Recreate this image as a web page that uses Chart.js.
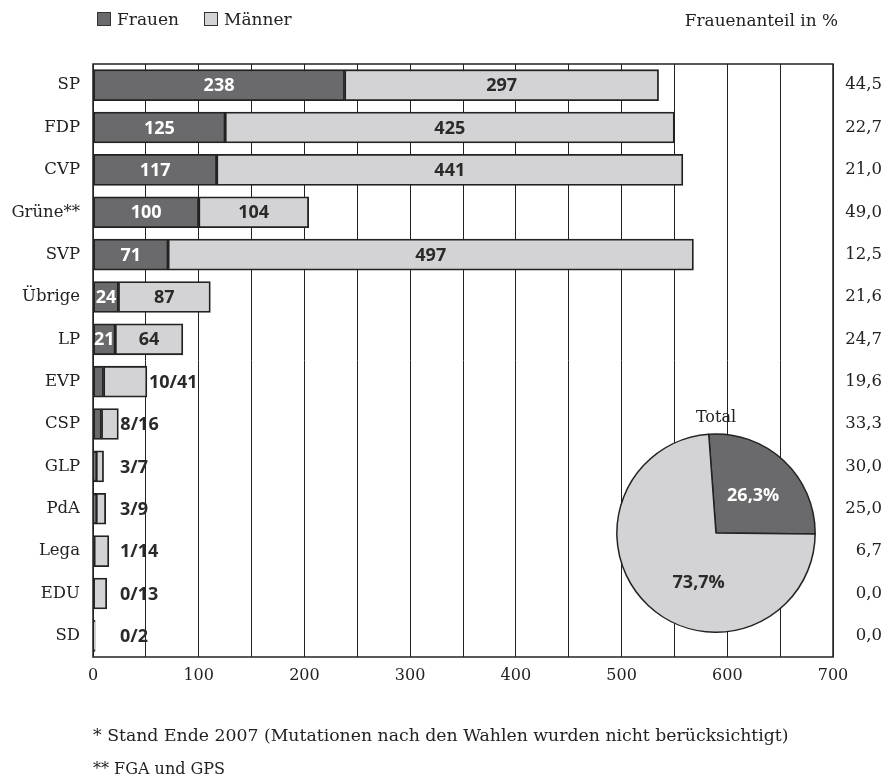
<!DOCTYPE html>
<html lang="de">
<head>
<meta charset="utf-8">
<script src="https://cdn.jsdelivr.net/npm/chart.js@4.4.1/dist/chart.umd.min.js"></script>
<style>
  body { margin: 0; background: #fff; }
  #wrap { position: relative; width: 886px; height: 776px; font-family: "DejaVu Serif", serif; color: #222; }
  #main { position: absolute; left: 0; top: 0; }
  #pieBox { position: absolute; left: 616px; top: 408px; width: 200px; height: 225px; }
  .legend { position: absolute; left: 97px; top: 9px; font-size: 17px; display: flex; gap: 25px; }
  .legend span.box { display: inline-block; width: 12px; height: 12px; border: 1.5px solid #333; margin-right: 6px; vertical-align: -1px; }
  .head { position: absolute; right: 48px; top: 10px; font-size: 16.9px; }
  .note { position: absolute; left: 93px; font-size: 16px; }
</style>
</head>
<body>
<div id="wrap">
  <canvas id="main" width="886" height="776"></canvas>
  <div id="pieBox"><canvas id="pie" width="200" height="225"></canvas></div>
  <div class="legend" id="legend"></div>
  <div class="head">Frauenanteil in %</div>
  <div class="note" style="top:725px; font-size:17.3px">* Stand Ende 2007 (Mutationen nach den Wahlen wurden nicht berücksichtigt)</div>
  <div class="note" style="top:759px">** FGA und GPS</div>
</div>
<script>
// Daten
const parteien = ['SP', 'FDP', 'CVP', 'Grüne**', 'SVP', 'Übrige', 'LP', 'EVP', 'CSP', 'GLP', 'PdA', 'Lega', 'EDU', 'SD'];
const frauen = [238, 125, 117, 100, 71, 24, 21, 10, 8, 3, 3, 1, 0, 0];
const maenner = [297, 425, 441, 104, 497, 87, 64, 41, 16, 7, 9, 14, 13, 2];
const frauenanteil = ['44,5', '22,7', '21,0', '49,0', '12,5', '21,6', '24,7', '19,6', '33,3', '30,0', '25,0', '6,7', '0,0', '0,0'];
const totalWerte = [26.3, 73.7];
const totalLabels = ['26,3%', '73,7%'];
const xTicks = [0, 100, 200, 300, 400, 500, 600, 700];

const DUNKEL = '#6a6a6d';
const HELL = '#d3d3d5';
const LINIE = '#222';
const serif = '"DejaVu Serif", serif';
const sans = '"Open Sans", "DejaVu Sans", sans-serif';

// Legende (HTML)
const legend = document.getElementById('legend');
[['Frauen', DUNKEL], ['Männer', HELL]].forEach(([txt, col]) => {
    const d = document.createElement('div');
    d.innerHTML = `<span class="box" style="background:${col}"></span>${txt}`;
    legend.appendChild(d);
});

// Rahmen um die Zeichenfläche
const rahmen = {
    id: 'rahmen',
    afterDatasetsDraw(chart) {
        const a = chart.chartArea, ctx = chart.ctx;
        ctx.save();
        ctx.strokeStyle = LINIE;
        ctx.lineWidth = 1.5;
        ctx.strokeRect(a.left, a.top, a.right - a.left, a.bottom - a.top);
        ctx.restore();
    }
};

// Werte in / neben den Balken
const werte = {
    id: 'werte',
    afterDatasetsDraw(chart) {
        const ctx = chart.ctx;
        const mF = chart.getDatasetMeta(0), mM = chart.getDatasetMeta(1);
        ctx.save();
        ctx.font = 'bold 18px ' + sans;
        ctx.textBaseline = 'middle';
        parteien.forEach((p, i) => {
            const bf = mF.data[i], bm = mM.data[i];
            if (frauen[i] >= 20) {
                ctx.textAlign = 'center';
                ctx.fillStyle = '#fff';
                ctx.fillText(frauen[i], (bf.base + bf.x) / 2, bf.y + 1);
                ctx.fillStyle = '#2a2a2a';
                ctx.fillText(maenner[i], (bm.base + bm.x) / 2, bm.y + 1);
            } else {
                ctx.textAlign = 'left';
                ctx.fillStyle = '#2a2a2a';
                ctx.fillText(frauen[i] + '/' + maenner[i], Math.max(bm.x + 2, 120), bm.y + 1);
            }
        });
        ctx.restore();
    }
};

new Chart(document.getElementById('main'), {
    type: 'bar',
    data: {
        labels: parteien,
        datasets: [
            { label: 'Frauen', data: frauen, backgroundColor: DUNKEL },
            { label: 'Männer', data: maenner, backgroundColor: HELL }
        ]
    },
    options: {
        indexAxis: 'y',
        responsive: false,
        animation: false,
        events: [],
        layout: { padding: { top: 64, right: 4, bottom: 79, left: 0 } },
        datasets: {
            bar: {
                borderColor: LINIE,
                borderWidth: 1.8,
                borderSkipped: false,
                barThickness: 31
            }
        },
        plugins: { legend: { display: false }, tooltip: { enabled: false } },
        scales: {
            x: {
                stacked: true,
                min: 0, max: 700,
                grid: { color: LINIE, lineWidth: 1, drawTicks: false },
                border: { display: false },
                afterBuildTicks(scale) {
                    const t = [];
                    for (let v = 0; v <= 700; v += 50) t.push({ value: v });
                    scale.ticks = t;
                },
                ticks: {
                    padding: 9,
                    color: '#222',
                    font: { family: serif, size: 16 },
                    callback: v => xTicks.includes(v) ? v : ''
                },
                afterFit(scale) { scale.height = 40; }
            },
            y: {
                stacked: true,
                grid: { display: false, drawTicks: false },
                border: { display: false },
                ticks: { padding: 13, color: '#222', font: { family: serif, size: 16.5 } },
                afterFit(scale) { scale.width = 93; }
            },
            y2: {
                type: 'category',
                position: 'right',
                labels: frauenanteil,
                offset: true,
                grid: { display: false, drawTicks: false },
                border: { display: false },
                ticks: { crossAlign: 'far', padding: 0, color: '#222', font: { family: serif, size: 16.5 } },
                afterFit(scale) { scale.width = 49; }
            }
        }
    },
    plugins: [rahmen, werte]
});

// Kreisdiagramm "Total"
const kreisWerte = {
    id: 'kreisWerte',
    afterDatasetsDraw(chart) {
        const ctx = chart.ctx;
        const anteil = [0.52, 0.41]; // Lage des Textes im Sektor
        ctx.save();
        ctx.font = 'bold 18px ' + sans;
        ctx.textAlign = 'center';
        ctx.textBaseline = 'middle';
        chart.getDatasetMeta(0).data.forEach((arc, i) => {
            const a = arc.startAngle + (arc.endAngle - arc.startAngle) * anteil[i];
            const r = arc.outerRadius * 0.53;
            ctx.fillStyle = i === 0 ? '#fff' : '#2a2a2a';
            ctx.fillText(totalLabels[i], arc.x + Math.cos(a) * r, arc.y + Math.sin(a) * r);
        });
        ctx.restore();
    }
};

new Chart(document.getElementById('pie'), {
    type: 'pie',
    data: {
        labels: ['Frauen', 'Männer'],
        datasets: [{
            data: totalWerte,
            backgroundColor: [DUNKEL, HELL],
            borderColor: LINIE,
            borderWidth: 1.5,
            hoverOffset: 0
        }]
    },
    options: {
        responsive: false,
        animation: false,
        events: [],
        rotation: -4.2,
        layout: { padding: 0 },
        plugins: {
            legend: { display: false },
            tooltip: { enabled: false },
            title: {
                display: true,
                text: 'Total',
                color: '#222',
                font: { family: serif, size: 16, weight: 'normal' },
                padding: { top: 0, bottom: 6 }
            }
        }
    },
    plugins: [kreisWerte]
});
</script>
</body>
</html>
